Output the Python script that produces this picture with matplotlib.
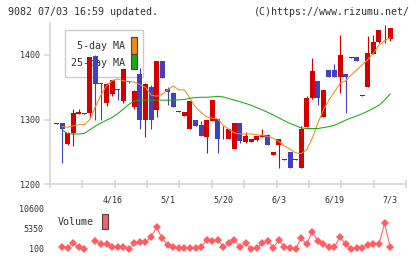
import numpy as np
import matplotlib
matplotlib.use("Agg")
import matplotlib.pyplot as plt
from matplotlib.patches import Rectangle

title_left = "9082 07/03 16:59 updated."
title_right = "(C)https://www.rizumu.net/"

date_labels = ["4/16", "5/1", "5/20", "6/3", "6/19", "7/3"]
date_label_idx = [10, 20, 30, 40, 50, 60]

# daily candles (61 days)
opens = [1293, 1294, 1262, 1279, 1308, 1309, 1310, 1399, 1356, 1326,
         1340, 1348, 1328, 1358, 1320, 1370, 1300, 1351, 1314, 1391,
         1348, 1341, 1311, 1306, 1286, 1299, 1291, 1273, 1298, 1301,
         1269, 1269, 1255, 1295, 1265, 1265, 1268, 1273, 1276, 1245,
         1260, 1237, 1250, 1237, 1225, 1289, 1333, 1360, 1304, 1376,
         1376, 1366, 1370, 1396, 1397, 1336, 1350, 1402, 1420, 1438,
         1425]
highs = [1294.5, 1294, 1280, 1317, 1317, 1310.5, 1397, 1400, 1356, 1356,
         1362, 1348, 1378, 1360, 1345, 1380, 1356, 1353, 1391, 1391,
         1351, 1342, 1312.5, 1311, 1328, 1299, 1297, 1299, 1330, 1301,
         1290, 1285, 1295, 1295, 1280, 1270, 1274, 1285, 1278, 1250,
         1270, 1238.5, 1250, 1238.5, 1290, 1336, 1395, 1360, 1346, 1376,
         1386, 1431, 1370, 1397.5, 1397, 1337.5, 1429, 1431, 1439, 1446,
         1442]
lows = [1293, 1233, 1261, 1259, 1308, 1309, 1303, 1299, 1299, 1321,
        1336, 1330, 1326, 1357, 1316, 1286, 1273, 1286, 1304, 1365,
        1322, 1320, 1311, 1306, 1286, 1290, 1274, 1248, 1298, 1248,
        1269, 1269, 1255, 1264, 1264, 1265, 1266, 1273, 1260, 1245,
        1225, 1237, 1225, 1237, 1225, 1289, 1332, 1322, 1304, 1366,
        1366, 1341, 1310, 1396, 1390, 1336, 1350, 1402, 1419, 1418,
        1421]
closes = [1294.5, 1286, 1279, 1310, 1311, 1310.5, 1397, 1355, 1354.5, 1355,
          1361, 1346, 1378, 1359.5, 1344, 1300, 1355, 1300, 1391, 1365,
          1342, 1320, 1312.5, 1311, 1328, 1290, 1274, 1299, 1330, 1270,
          1270.5, 1285, 1295, 1267, 1274, 1270, 1274, 1276, 1260, 1250,
          1270, 1238.5, 1225, 1238.5, 1285, 1333, 1375, 1334, 1346, 1366,
          1366, 1400, 1366, 1397.5, 1390, 1337.5, 1403, 1420, 1439, 1439.5,
          1442]

ma5 = [np.nan, 1289, 1288, 1290, 1292, 1292, 1300, 1320, 1338, 1352,
       1360, 1363, 1360, 1359, 1358, 1354, 1350, 1338, 1336, 1339,
       1346, 1352, 1346, 1346, 1333, 1319, 1311, 1304, 1302, 1301,
       1291, 1285, 1279, 1277.5, 1277.5, 1277.5, 1276.5, 1275.5, 1273.5, 1271,
       1266, 1259, 1254, 1248.5, 1247, 1253, 1271, 1294, 1315, 1330,
       1343, 1356, 1360, 1369, 1377, 1385, 1393, 1403, 1415, 1422,
       1427]
ma25 = [np.nan, 1284, 1278, 1277.5, 1277.5, 1278.5, 1284, 1290, 1294.5, 1299,
        1303, 1309, 1316, 1323.5, 1328.5, 1330, 1330, 1330, 1330, 1330,
        1330, 1330, 1330.5, 1331, 1333, 1334, 1334.5, 1334.5, 1335, 1336,
        1335, 1332.5, 1330, 1327.5, 1325, 1322, 1318.5, 1315, 1311, 1307,
        1302.5, 1298, 1294, 1290.5, 1287, 1286, 1286, 1286, 1287.5, 1289,
        1291, 1295, 1299, 1302.5, 1305.5, 1309, 1313, 1317.5, 1322, 1330,
        1339.5]

volume = [np.nan, 700, 440, 1600, 700, 100, np.nan, 2200, 1330, 1330,
          700, 700, 700, 100, 1600, 1860, 1860, 3330, 5800, 2900,
          1150, 700, 440, 440, 440, 440, 700, 2460, 2200, 2460,
          700, 1600, 2460, 700, 1600, 100, 440, 1600, 2200, 440,
          2460, 550, 440, 100, 2900, 1330, 4640, 2200, 1330, 700,
          700, 3330, 1330, 100, 440, 440, 1150, 1330, 1330, 6850,
          700]

RED = "#d40000"
BLUE = "#4040c0"
ORANGE = "#f08a1a"
GREEN = "#18a818"
VOL = "#ff5f64"
GRAY = "#d6d6d6"
TXT = "#333333"

plt.rcParams["font.family"] = ["DejaVu Sans Mono"]

W, H = 420, 259
fig = plt.figure(figsize=(W / 100, H / 100), dpi=100)


def fx(px):
    return px / W


def fy(py):
    return 1 - py / H


idx = np.arange(len(opens))
o = np.array(opens)
c = np.array(closes)
colors = [RED if cc >= oo else BLUE for oo, cc in zip(o, c)]

# price panel
ax = fig.add_axes([fx(50), fy(184), fx(406) - fx(50), fy(22.75) - fy(184)])
xmin, xmax = -1.17, 62.86
ax.set_xlim(xmin, xmax)
ax.set_ylim(1200, 1450)

ax.vlines(idx, lows, highs, colors=colors, linewidth=0.8, zorder=3)
ax.bar(idx, c - o, bottom=o, width=0.9, color=colors, linewidth=0, zorder=3)
ax.plot(idx, ma5, color=ORANGE, lw=0.75, zorder=4)
ax.plot(idx, ma25, color=GREEN, lw=0.75, zorder=4)

for s in ["top", "right"]:
    ax.spines[s].set_visible(False)
for s in ["left", "bottom"]:
    ax.spines[s].set_color(GRAY)
    ax.spines[s].set_linewidth(1.2)

ax.set_xticks(np.linspace(xmin, xmax, 12))
ax.tick_params(axis="x", which="major", direction="inout", length=6,
               width=1.2, color=GRAY, labelbottom=False)
ax.set_xticks(date_label_idx, minor=True)
ax.set_xticklabels(date_labels, minor=True)
ax.tick_params(axis="x", which="minor", length=0, pad=8, labelsize=6,
               labelcolor=TXT)
ax.set_yticks([1200, 1300, 1400])
ax.tick_params(axis="y", direction="out", length=4, width=1.2, color=GRAY,
               labelsize=6, labelcolor=TXT, pad=3)

# legend sits under the candles
tf = fig.transFigure
ax.add_patch(Rectangle((fx(65), fy(77)), fx(143) - fx(65), fy(30) - fy(77),
                       transform=tf, fc="white", ec="#cccccc", lw=1,
                       zorder=1, clip_on=False))
ax.text(fx(125), fy(46), "5-day MA", transform=tf, ha="right", va="center",
        fontsize=7.2, color=TXT, zorder=1.5)
ax.text(fx(125), fy(63), "25-day MA", transform=tf, ha="right", va="center",
        fontsize=7.2, color=TXT, zorder=1.5)
ax.add_patch(Rectangle((fx(131), fy(54)), fx(137) - fx(131), fy(37) - fy(54),
                       transform=tf, fc=ORANGE, ec="#444444", lw=0.8,
                       zorder=1.5, clip_on=False))
ax.add_patch(Rectangle((fx(131), fy(69)), fx(137) - fx(131), fy(54) - fy(69),
                       transform=tf, fc=GREEN, ec="#444444", lw=0.8,
                       zorder=1.5, clip_on=False))

# volume panel
ax2 = fig.add_axes([fx(50), fy(252), fx(406) - fx(50), fy(206) - fy(252)])
ax2.set_xlim(xmin, xmax)
ax2.set_ylim(-687.5, 11387.5)
ax2.plot(idx, volume, color=VOL, lw=0.75, marker="D", ms=4.0,
         markeredgewidth=0, zorder=3)
for s in ax2.spines.values():
    s.set_visible(False)
ax2.set_xticks([])
ax2.set_yticks([100, 5350, 10600])
ax2.tick_params(axis="y", length=0, labelsize=6, labelcolor=TXT, pad=4.5)
ax2.patch.set_alpha(0)

fig.text(fx(58), fy(222), "Volume", ha="left", va="center", fontsize=7.2,
         color=TXT)
fig.patches.append(Rectangle((fx(101.7), fy(228.5)), fx(6), fy(0) - fy(15),
                             transform=tf, fc=VOL, ec="#444444", lw=0.8,
                             figure=fig))

fig.text(fx(8), fy(12), title_left, ha="left", va="center", fontsize=7.2,
         color=TXT)
fig.text(fx(410), fy(12), title_right, ha="right", va="center", fontsize=7.2,
         color=TXT)

fig.savefig("out.png", dpi=100)
